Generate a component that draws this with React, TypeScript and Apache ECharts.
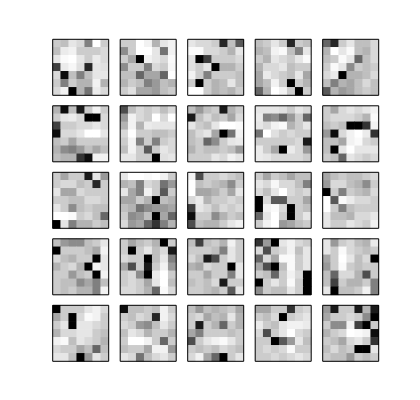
import React, { useEffect, useRef } from "react";
import * as echarts from "echarts";

// Darkness of each cell: 0 = white, 1 = black. 7x7 per panel, rows top to bottom.
const f11 = [
  [0.2, 0.25, 0.1, 0.15, 0.5, 0.0, 0.2],
  [0.25, 0.08, 0.05, 0.2, 0.2, 0.2, 0.15],
  [0.1, 0.02, 0.0, 0.1, 0.2, 0.08, 0.15],
  [0.75, 0.08, 0.03, 0.12, 0.85, 0.1, 0.12],
  [0.15, 0.95, 0.25, 0.5, 0.25, 0.1, 0.1],
  [0.2, 0.5, 0.2, 0.3, 0.3, 0.05, 0.3],
  [0.15, 0.05, 1.0, 0.3, 0.55, 0.08, 0.15],
];
const f12 = [
  [0.2, 0.2, 0.0, 0.05, 0.3, 0.1, 0.05],
  [0.45, 0.2, 0.0, 0.0, 0.1, 0.55, 0.05],
  [0.2, 0.35, 1.0, 0.05, 0.1, 0.15, 0.02],
  [0.45, 0.2, 0.2, 0.5, 0.15, 0.2, 0.03],
  [0.25, 0.25, 0.6, 0.35, 0.35, 0.6, 0.0],
  [0.3, 0.2, 0.25, 0.5, 0.4, 0.25, 0.3],
  [0.2, 0.12, 0.35, 0.35, 0.4, 0.25, 0.2],
];
const f13 = [
  [0.1, 0.15, 0.15, 0.2, 0.85, 0.25, 0.65],
  [0.02, 0.02, 0.15, 0.15, 0.2, 0.3, 0.1],
  [0.12, 1.0, 0.75, 0.2, 0.2, 0.2, 0.15],
  [0.12, 0.2, 0.1, 1.0, 0.3, 0.3, 0.2],
  [0.05, 0.2, 0.5, 0.2, 0.2, 0.2, 0.25],
  [0.2, 1.0, 0.2, 0.3, 0.25, 0.1, 0.25],
  [0.0, 0.0, 0.2, 0.3, 0.25, 0.3, 0.2],
];
const f14 = [
  [0.25, 0.2, 0.1, 0.2, 0.85, 0.2, 0.25],
  [0.3, 0.25, 0.05, 0.02, 0.25, 0.5, 0.1],
  [0.2, 0.3, 0.1, 0.15, 0.2, 0.1, 0.02],
  [0.3, 0.15, 0.15, 0.1, 0.25, 0.2, 0.2],
  [0.35, 0.08, 0.15, 0.2, 0.25, 0.1, 0.35],
  [0.35, 0.25, 0.05, 0.2, 1.0, 0.2, 0.3],
  [0.6, 0.3, 0.0, 0.05, 0.2, 1.0, 0.2],
];
const f15 = [
  [0.6, 0.85, 0.2, 0.1, 0.25, 0.25, 0.15],
  [0.3, 0.0, 0.1, 0.02, 0.25, 0.3, 0.15],
  [0.25, 0.2, 0.02, 0.1, 0.6, 0.25, 0.15],
  [0.2, 0.02, 0.1, 0.45, 0.2, 0.25, 0.2],
  [0.15, 0.08, 1.0, 0.3, 0.3, 0.25, 0.15],
  [0.25, 0.5, 0.3, 0.35, 0.25, 0.15, 0.25],
  [0.65, 0.3, 0.4, 0.35, 0.25, 0.2, 0.25],
];
const f21 = [
  [0.3, 0.95, 0.25, 0.9, 0.2, 0.05, 0.2],
  [0.2, 0.1, 0.08, 0.15, 1.0, 1.0, 0.15],
  [0.75, 0.2, 0.2, 0.15, 0.15, 0.1, 0.15],
  [0.95, 0.15, 0.15, 0.1, 0.0, 0.0, 0.1],
  [0.25, 0.2, 0.35, 0.2, 0.2, 0.2, 0.2],
  [0.3, 0.45, 0.5, 0.4, 0.25, 0.35, 0.25],
  [0.25, 0.3, 0.3, 0.8, 0.95, 0.05, 0.05],
];
const f22 = [
  [0.7, 0.25, 0.15, 0.2, 0.15, 0.25, 0.15],
  [0.4, 0.05, 0.15, 0.2, 0.0, 0.15, 0.0],
  [0.3, 0.05, 0.3, 0.08, 0.1, 0.1, 0.1],
  [0.15, 0.0, 0.2, 0.2, 0.25, 0.25, 0.2],
  [0.2, 0.05, 0.5, 0.2, 0.5, 0.2, 0.15],
  [0.25, 0.05, 0.2, 0.65, 0.2, 0.1, 0.15],
  [0.1, 0.1, 0.2, 0.2, 1.0, 0.12, 0.1],
];
const f23 = [
  [0.25, 0.4, 0.25, 0.2, 0.9, 0.3, 0.2],
  [0.9, 0.25, 0.15, 0.25, 0.2, 0.35, 0.15],
  [0.1, 0.2, 0.25, 0.1, 0.0, 0.0, 0.02],
  [0.25, 0.15, 0.1, 0.35, 1.0, 0.55, 0.05],
  [0.25, 0.2, 0.6, 0.45, 0.2, 0.1, 0.08],
  [0.3, 0.2, 0.25, 0.25, 0.2, 0.25, 0.4],
  [0.2, 0.2, 0.2, 0.1, 0.15, 0.05, 0.1],
];
const f24 = [
  [0.1, 0.1, 0.1, 0.12, 0.2, 0.1, 0.15],
  [0.08, 0.5, 0.45, 0.6, 0.4, 0.2, 0.6],
  [0.1, 0.15, 0.05, 0.02, 0.3, 0.2, 0.1],
  [0.55, 0.0, 0.12, 0.2, 0.15, 0.2, 0.2],
  [0.2, 0.2, 0.2, 0.2, 0.2, 0.15, 0.9],
  [0.08, 0.2, 0.35, 1.0, 0.08, 0.15, 0.4],
  [0.08, 0.1, 0.15, 0.15, 0.15, 0.15, 0.2],
];
const f25 = [
  [0.2, 0.35, 0.15, 0.1, 0.15, 0.1, 0.05],
  [0.2, 0.15, 0.15, 0.15, 0.2, 0.3, 0.02],
  [0.25, 0.2, 0.25, 1.0, 1.0, 0.8, 0.05],
  [0.4, 0.95, 0.15, 0.05, 0.0, 0.08, 0.8],
  [0.25, 0.25, 0.35, 0.05, 0.02, 0.15, 0.2],
  [0.25, 1.0, 0.1, 0.0, 0.1, 0.1, 0.1],
  [0.2, 0.25, 0.6, 0.1, 0.15, 0.2, 0.15],
];
const f31 = [
  [0.2, 0.35, 0.2, 0.2, 0.9, 0.1, 0.4],
  [0.2, 0.15, 0.15, 0.25, 0.2, 0.85, 0.2],
  [0.1, 0.35, 0.35, 0.15, 0.2, 0.2, 0.2],
  [0.2, 0.2, 0.25, 0.25, 0.15, 0.15, 0.2],
  [0.1, 0.2, 0.45, 0.25, 0.2, 0.25, 0.25],
  [0.0, 0.0, 0.02, 0.2, 0.15, 0.25, 0.6],
  [1.0, 0.1, 0.5, 0.3, 0.3, 0.2, 0.25],
];
const f32 = [
  [0.1, 0.0, 0.0, 0.02, 0.0, 0.05, 0.2],
  [0.3, 0.25, 0.5, 0.15, 0.2, 0.55, 0.4],
  [0.1, 0.35, 0.5, 0.05, 0.2, 0.65, 0.2],
  [0.35, 0.35, 0.2, 0.3, 1.0, 0.25, 0.3],
  [0.25, 0.3, 0.55, 0.45, 0.4, 0.4, 0.35],
  [0.2, 0.45, 0.4, 0.25, 1.0, 0.35, 0.6],
  [0.15, 0.4, 0.35, 0.6, 0.8, 0.5, 0.3],
];
const f33 = [
  [0.05, 0.7, 0.2, 0.2, 0.15, 0.2, 0.25],
  [0.0, 0.25, 0.2, 0.25, 0.3, 0.45, 0.2],
  [0.0, 0.35, 0.35, 0.3, 0.2, 0.35, 0.1],
  [0.15, 0.08, 0.3, 0.2, 0.2, 0.15, 0.2],
  [0.75, 0.1, 0.15, 0.25, 0.15, 0.2, 0.15],
  [0.95, 0.2, 0.2, 0.45, 0.3, 0.2, 0.25],
  [0.7, 0.25, 0.3, 0.3, 0.2, 0.1, 0.05],
];
const f34 = [
  [0.2, 0.35, 0.2, 0.25, 0.35, 0.25, 0.25],
  [0.1, 0.15, 0.03, 0.15, 0.15, 0.25, 0.5],
  [0.15, 0.25, 0.1, 0.0, 0.15, 0.2, 0.15],
  [1.0, 0.15, 0.65, 0.65, 0.2, 0.2, 0.35],
  [1.0, 0.05, 0.02, 0.15, 1.0, 0.2, 0.25],
  [0.6, 0.1, 0.0, 0.2, 1.0, 0.2, 0.1],
  [0.2, 0.05, 0.0, 0.4, 0.35, 0.25, 0.2],
];
const f35 = [
  [0.35, 0.25, 0.2, 0.25, 0.25, 0.2, 0.15],
  [0.4, 0.15, 0.15, 0.25, 0.3, 0.45, 0.2],
  [1.0, 0.2, 0.5, 0.2, 0.25, 0.3, 0.15],
  [0.0, 0.65, 0.02, 0.08, 0.15, 0.15, 0.2],
  [0.0, 0.2, 0.5, 0.25, 0.2, 0.2, 0.2],
  [0.1, 0.25, 0.25, 0.3, 0.15, 0.15, 0.1],
  [0.1, 0.2, 0.2, 0.1, 0.15, 0.2, 0.05],
];
const f41 = [
  [0.25, 0.4, 0.45, 0.45, 0.25, 0.2, 0.1],
  [1.0, 0.2, 0.2, 0.2, 0.25, 0.35, 0.05],
  [0.15, 0.25, 0.3, 0.2, 0.2, 1.0, 0.1],
  [0.3, 0.2, 0.15, 0.3, 1.0, 0.05, 0.1],
  [0.2, 0.2, 0.4, 0.25, 0.2, 1.0, 0.05],
  [0.2, 0.25, 0.25, 0.45, 0.35, 0.5, 0.25],
  [0.2, 0.25, 0.2, 0.3, 0.3, 0.5, 0.05],
];
const f42 = [
  [0.2, 0.35, 0.25, 0.2, 0.3, 1.0, 0.2],
  [0.2, 1.0, 0.2, 0.1, 0.25, 0.15, 0.9],
  [0.15, 0.2, 0.2, 1.0, 0.25, 0.1, 0.5],
  [0.35, 0.7, 0.2, 0.9, 0.2, 0.05, 0.4],
  [0.2, 0.15, 0.45, 1.0, 0.08, 0.0, 0.2],
  [0.2, 0.15, 0.2, 0.35, 0.1, 0.0, 0.25],
  [0.15, 0.15, 0.2, 0.3, 0.6, 0.02, 0.15],
];
const f43 = [
  [0.25, 0.75, 0.25, 0.2, 0.3, 0.05, 0.2],
  [0.2, 0.2, 0.2, 0.25, 0.5, 0.1, 0.2],
  [0.15, 0.25, 0.9, 0.7, 0.2, 0.1, 0.2],
  [0.3, 0.35, 0.15, 0.2, 0.2, 1.0, 0.1],
  [0.2, 0.2, 0.35, 0.2, 0.2, 0.5, 0.1],
  [0.25, 0.2, 0.25, 0.15, 0.9, 0.2, 0.2],
  [0.2, 0.2, 0.25, 0.3, 0.2, 0.65, 0.1],
];
const f44 = [
  [0.8, 0.4, 1.0, 0.1, 0.05, 0.15, 0.2],
  [0.15, 0.7, 0.2, 0.15, 0.05, 0.25, 0.1],
  [0.6, 0.15, 0.35, 0.02, 0.02, 0.2, 0.1],
  [0.35, 0.7, 1.0, 0.25, 0.02, 0.2, 0.1],
  [0.2, 0.25, 0.6, 0.2, 0.05, 0.15, 1.0],
  [1.0, 0.2, 0.1, 0.2, 0.02, 0.2, 1.0],
  [0.45, 0.2, 0.25, 0.25, 0.1, 0.2, 1.0],
];
const f45 = [
  [0.1, 0.4, 0.2, 0.15, 0.25, 0.3, 0.08],
  [0.1, 0.2, 0.02, 0.15, 0.2, 0.25, 0.2],
  [0.35, 0.2, 0.0, 0.1, 0.25, 0.15, 1.0],
  [0.4, 0.2, 0.02, 0.2, 0.25, 0.2, 0.2],
  [0.25, 0.6, 0.15, 0.15, 0.3, 0.7, 0.2],
  [0.25, 0.75, 0.2, 0.3, 0.3, 0.2, 0.5],
  [0.1, 1.0, 0.25, 0.25, 0.2, 0.05, 0.5],
];
const f51 = [
  [1.0, 0.2, 0.2, 0.2, 0.1, 0.05, 0.15],
  [0.35, 0.2, 1.0, 0.15, 0.02, 0.05, 0.2],
  [0.2, 0.1, 1.0, 0.1, 0.1, 0.15, 0.2],
  [0.3, 0.15, 0.15, 0.1, 0.1, 0.2, 0.25],
  [0.05, 0.02, 0.25, 0.1, 0.15, 0.2, 0.3],
  [0.15, 0.2, 0.2, 0.35, 0.25, 0.6, 0.25],
  [0.1, 0.1, 0.25, 1.0, 0.4, 0.1, 0.2],
];
const f52 = [
  [0.95, 0.25, 0.25, 0.2, 0.25, 0.05, 0.2],
  [0.2, 0.25, 0.15, 0.2, 0.85, 0.05, 0.15],
  [0.15, 0.2, 0.4, 0.45, 0.25, 0.1, 0.2],
  [0.25, 0.1, 0.15, 0.3, 0.2, 0.2, 0.3],
  [0.2, 0.0, 0.0, 0.05, 0.2, 0.6, 0.2],
  [0.25, 0.2, 0.2, 0.35, 0.05, 0.05, 0.4],
  [0.1, 0.15, 0.55, 0.25, 0.15, 0.1, 0.2],
];
const f53 = [
  [0.25, 0.4, 0.25, 0.3, 0.25, 0.2, 0.35],
  [0.2, 0.15, 0.35, 0.25, 0.3, 0.1, 0.3],
  [0.2, 0.9, 0.2, 0.3, 0.6, 0.2, 0.3],
  [0.35, 0.5, 0.2, 0.2, 0.2, 0.25, 0.2],
  [0.7, 0.2, 0.1, 0.05, 0.02, 0.1, 0.2],
  [0.2, 0.25, 0.2, 0.25, 0.15, 0.2, 0.25],
  [0.15, 0.05, 0.35, 0.6, 1.0, 0.2, 0.1],
];
const f54 = [
  [0.35, 0.35, 0.2, 0.2, 0.8, 0.2, 0.15],
  [0.2, 0.25, 0.15, 1.0, 0.2, 0.15, 0.1],
  [0.08, 0.2, 0.25, 0.1, 0.05, 0.05, 0.08],
  [0.15, 0.7, 0.2, 0.1, 0.0, 0.15, 0.2],
  [0.2, 0.2, 1.0, 0.65, 0.4, 0.1, 0.25],
  [0.2, 0.15, 0.2, 0.15, 0.02, 0.2, 0.2],
  [0.2, 0.2, 0.15, 0.2, 0.15, 0.1, 0.15],
];
const f55 = [
  [0.4, 0.9, 0.2, 0.2, 0.9, 0.3, 0.9],
  [0.35, 0.2, 0.2, 0.15, 0.2, 0.45, 1.0],
  [0.2, 0.45, 0.45, 0.05, 0.75, 1.0, 0.2],
  [0.3, 0.2, 0.15, 0.0, 0.02, 0.05, 0.95],
  [0.2, 0.25, 0.35, 0.15, 0.1, 0.2, 0.8],
  [0.25, 0.15, 0.25, 0.2, 1.0, 1.0, 0.1],
  [0.2, 0.25, 0.25, 0.4, 0.2, 0.25, 0.2],
];

const filters = [
  f11, f12, f13, f14, f15,
  f21, f22, f23, f24, f25,
  f31, f32, f33, f34, f35,
  f41, f42, f43, f44, f45,
  f51, f52, f53, f54, f55,
];
const cells = ["0", "1", "2", "3", "4", "5", "6"];

// layout of the 5x5 panel grid (pixels)
const GRID_LEFT = 52.7;
const GRID_TOP = 39.3;
const STEP_X = 67.5;
const STEP_Y = 66.5;
const PANEL_W = 56;
const PANEL_H = 56;

export default function App() {
  const ref = useRef<HTMLDivElement>(null);
  useEffect(() => {
    if (!ref.current) return;
    const chart = echarts.init(ref.current, null, { renderer: "svg" });
    const grids: any[] = [];
    const xAxes: any[] = [];
    const yAxes: any[] = [];
    const series: any[] = [];
    const frames: any[] = [];
    filters.forEach((f, k) => {
      const r = Math.floor(k / 5);
      const c = k % 5;
      const left = GRID_LEFT + c * STEP_X;
      const top = GRID_TOP + r * STEP_Y;
      grids.push({ left, top, width: PANEL_W, height: PANEL_H, containLabel: false });
      const hidden = {
        axisLine: { show: false },
        axisTick: { show: false },
        axisLabel: { show: false },
        splitLine: { show: false },
      };
      xAxes.push({ type: "category", data: cells, gridIndex: k, ...hidden });
      yAxes.push({ type: "category", data: cells, gridIndex: k, inverse: true, ...hidden });
      const data: number[][] = [];
      f.forEach((row, i) => row.forEach((v, j) => data.push([j, i, v])));
      series.push({
        type: "heatmap",
        xAxisIndex: k,
        yAxisIndex: k,
        data,
        itemStyle: { borderWidth: 0 },
        emphasis: { disabled: true },
        silent: true,
      });
      frames.push({
        type: "rect",
        shape: { x: left, y: top, width: PANEL_W, height: PANEL_H },
        style: { fill: "none", stroke: "#000", lineWidth: 1 },
        z: 100,
        silent: true,
      });
    });
    chart.setOption({
      animation: false,
      backgroundColor: "#ffffff",
      grid: grids,
      xAxis: xAxes,
      yAxis: yAxes,
      visualMap: {
        type: "continuous",
        show: false,
        min: 0,
        max: 1,
        seriesIndex: series.map((_, i) => i),
        inRange: { color: ["#ffffff", "#000000"] },
      },
      graphic: frames,
      series,
    });
    return () => chart.dispose();
  }, []);
  return (
    <div
      ref={ref}
      style={{ position: "fixed", left: 0, top: 0, width: 420, height: 400, background: "#fff" }}
    />
  );
}
